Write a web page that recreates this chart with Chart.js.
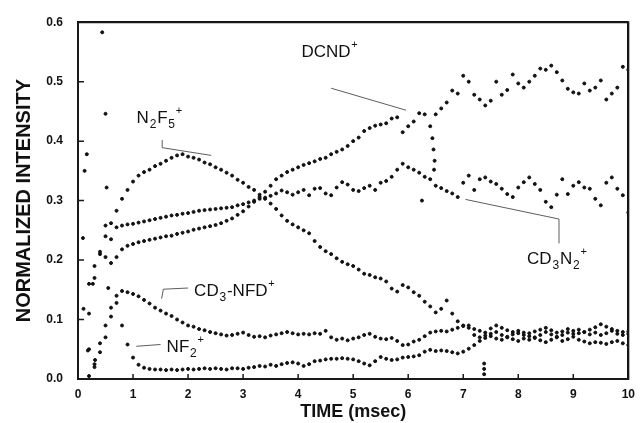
<!DOCTYPE html>
<html>
<head>
<meta charset="utf-8">
<script src="https://cdn.jsdelivr.net/npm/chart.js@4.4.0/dist/chart.umd.min.js"></script>
<style>
  html, body { margin: 0; padding: 0; background: #fff; }
  #wrap { width: 643px; height: 423px; }
</style>
</head>
<body>
<div id="wrap"><canvas id="chart"></canvas></div>
<script>
// time axis (msec), one sample every 0.1 ms
var times = [
  0.0,0.1,0.2,0.3,0.4,0.5,0.6,0.7,0.8,0.9,
  1.0,1.1,1.2,1.3,1.4,1.5,1.6,1.7,1.8,1.9,
  2.0,2.1,2.2,2.3,2.4,2.5,2.6,2.7,2.8,2.9,
  3.0,3.1,3.2,3.3,3.4,3.5,3.6,3.7,3.8,3.9,
  4.0,4.1,4.2,4.3,4.4,4.5,4.6,4.7,4.8,4.9,
  5.0,5.1,5.2,5.3,5.4,5.5,5.6,5.7,5.8,5.9,
  6.0,6.1,6.2,6.3,6.4,6.5,6.6,6.7,6.8,6.9,
  7.0,7.1,7.2,7.3,7.4,7.5,7.6,7.7,7.8,7.9,
  8.0,8.1,8.2,8.3,8.4,8.5,8.6,8.7,8.8,8.9,
  9.0,9.1,9.2,9.3,9.4,9.5,9.6,9.7,9.8,9.9,
  10.0
];

var nf2 = [
  null,null,0.005,0.020,0.045,0.070,0.105,0.128,0.090,0.058,
  0.036,0.024,0.019,0.017,0.016,0.016,0.015,0.016,0.015,0.016,
  0.017,0.016,0.017,0.018,0.017,0.018,0.017,0.016,0.018,0.018,
  0.017,0.019,0.020,0.022,0.021,0.024,0.022,0.025,0.027,0.028,
  0.026,0.022,0.025,0.030,0.031,0.033,0.034,0.034,0.035,0.034,
  0.033,0.030,0.026,0.023,0.030,0.037,0.034,0.032,0.033,0.036,
  0.037,0.038,0.040,0.046,0.049,0.047,0.048,0.047,0.045,0.043,
  0.046,0.051,0.057,0.064,0.069,0.072,0.068,0.066,0.070,0.067,
  0.064,0.068,0.066,0.070,0.065,0.062,0.066,0.070,0.064,0.067,
  0.071,0.066,0.063,0.060,0.062,0.061,0.059,0.062,0.064,0.060,
  0.057
];

var cd3nfd = [
  null,0.118,0.050,0.025,0.060,0.090,0.120,0.140,0.148,0.146,
  0.143,0.139,0.133,0.127,0.120,0.115,0.110,0.106,0.100,0.095,
  0.090,0.088,0.084,0.082,0.079,0.077,0.075,0.073,0.074,0.076,
  0.078,0.074,0.071,0.072,0.070,0.073,0.075,0.077,0.079,0.077,
  0.075,0.076,0.075,0.077,0.076,0.081,0.070,0.066,0.068,0.065,
  0.068,0.070,0.074,0.076,0.071,0.068,0.067,0.069,0.064,0.057,
  0.058,0.063,0.066,0.072,0.078,0.080,0.081,0.080,0.083,0.086,
  0.089,0.090,0.084,0.081,0.078,0.085,0.090,0.086,0.082,0.079,
  0.077,0.074,0.077,0.080,0.083,0.086,0.082,0.078,0.080,0.084,
  0.081,0.077,0.079,0.083,0.087,0.092,0.088,0.084,0.081,0.079,
  0.080
];

var n2f5 = [
  null,null,0.160,0.190,0.210,0.240,0.262,0.283,0.303,0.318,
  0.332,0.342,0.348,0.352,0.358,0.362,0.367,0.372,0.376,0.378,
  0.374,0.372,0.369,0.364,0.361,0.356,0.352,0.347,0.342,0.335,
  0.330,0.323,0.318,0.310,0.303,0.295,0.286,0.275,0.266,0.260,
  0.255,0.250,0.245,0.232,0.222,0.215,0.210,0.203,0.197,0.193,
  0.190,0.184,0.177,0.175,0.171,0.169,0.164,0.152,0.147,0.158,
  0.154,0.146,0.140,0.130,0.122,0.112,0.118,0.132,0.110,0.097,
  0.090,0.086,0.074,0.070,0.073,0.076,0.079,0.074,0.071,0.075,
  0.081,0.078,0.072,0.069,0.074,0.079,0.075,0.071,0.074,0.078,
  0.076,0.083,0.079,0.075,0.078,0.074,0.077,0.081,0.076,0.074,
  0.076
];

var dcnd = [
  null,null,0.110,0.170,0.214,0.205,0.195,0.205,0.218,0.224,
  0.227,0.230,0.232,0.234,0.236,0.238,0.240,0.241,0.244,0.246,
  0.248,0.251,0.253,0.255,0.257,0.259,0.262,0.266,0.270,0.276,
  0.282,0.290,0.298,0.306,0.315,0.325,0.336,0.342,0.348,0.352,
  0.356,0.360,0.363,0.366,0.370,0.372,0.378,0.382,0.386,0.392,
  0.400,0.406,0.417,0.422,0.426,0.428,0.430,0.438,0.440,0.415,
  0.425,0.433,0.447,0.445,0.425,0.445,0.455,0.465,0.485,0.480,
  0.510,0.500,0.478,0.470,0.460,0.468,0.500,0.478,0.486,0.512,
  0.497,0.490,0.500,0.510,0.522,0.520,0.527,0.516,0.502,0.488,
  0.482,0.480,0.497,0.485,0.490,0.502,0.470,0.480,0.490,0.525,
  0.520
];

var cd3n2 = [
  null,null,null,null,null,0.258,0.235,0.255,0.258,0.260,
  0.261,0.263,0.265,0.267,0.269,0.271,0.273,0.275,0.276,0.278,
  0.279,0.281,0.283,0.284,0.285,0.286,0.287,0.288,0.289,0.292,
  0.294,0.297,0.300,0.303,0.305,0.308,0.312,0.317,0.314,0.310,
  0.314,0.318,0.309,0.320,0.321,0.312,0.309,0.322,0.331,0.327,
  0.318,0.316,0.321,0.325,0.318,0.330,0.333,0.340,0.352,0.362,
  0.356,0.352,0.347,0.340,0.336,0.325,0.321,0.316,0.312,0.306,
  0.330,0.342,0.318,0.336,0.339,0.332,0.328,0.320,0.311,0.306,
  0.322,0.331,0.339,0.328,0.318,0.298,0.289,0.310,0.336,0.311,
  0.325,0.331,0.322,0.320,0.303,0.292,0.330,0.339,0.320,0.309,
  0.280
];

// scattered single points (early noise, the jump near 6.45 ms)
var strayTimes  = [0.09, 0.16, 0.12, 0.44, 0.50, 0.52, 0.27, 0.55, 0.18, 0.31, 6.44, 6.46, 6.48, 6.47, 6.25, 7.38, 7.38, 7.38];
var strayValues = [0.237,0.378,0.350,0.583,0.446,0.322,0.160,0.153,0.048,0.032,0.405,0.386,0.367,0.352,0.300,0.008,0.017,0.026];

var xMin = 0, xMax = 10;
var yMin = 0, yMax = 0.6;
var xTicks = [0,1,2,3,4,5,6,7,8,9,10];
var yTicks = [0.0,0.1,0.2,0.3,0.4,0.5,0.6];

// curve labels: text pieces (''/sub/sup), anchor and leader line, in data units
var labels = [
  { parts: [['N',''],['2','sub'],['F',''],['5','sub'],['+','sup']], x: 1.065, y: 0.430,
    leader: [[1.53,0.402],[1.53,0.389],[2.42,0.376]] },
  { parts: [['DCND',''],['+','sup']], x: 4.06, y: 0.542,
    leader: [[4.60,0.489],[5.96,0.452]] },
  { parts: [['CD',''],['3','sub'],['-NFD',''],['+','sup']], x: 2.11, y: 0.140,
    leader: [[1.52,0.135],[1.55,0.151],[2.00,0.153]] },
  { parts: [['NF',''],['2','sub'],['+','sup']], x: 1.61, y: 0.045,
    leader: [[1.06,0.055],[1.50,0.058]] },
  { parts: [['CD',''],['3','sub'],['N',''],['2','sub'],['+','sup']], x: 8.16, y: 0.193,
    leader: [[7.04,0.302],[8.74,0.269],[8.74,0.228]] }
];

function pts(xs, vs) {
  var out = [];
  for (var i = 0; i < xs.length; i++) {
    if (vs[i] !== null) out.push({ x: xs[i], y: vs[i] });
  }
  return out;
}

function series(name, data) {
  return {
    label: name,
    data: data,
    showLine: false,
    pointRadius: 1.5,
    pointBorderWidth: 1,
    pointBorderColor: '#111',
    pointBackgroundColor: '#111',
    pointHoverRadius: 1.5
  };
}

var font = '"Liberation Sans", Arial, sans-serif';

// grid lines only at the two ends of each axis: they make the frame
function edgeGrid(lo, hi) {
  return {
    display: true,
    drawTicks: false,
    color: function (c) {
      var v = c.tick ? c.tick.value : null;
      return (v === lo || v === hi) ? '#000' : 'rgba(0,0,0,0)';
    },
    lineWidth: 2
  };
}

var decor = {
  id: 'decor',
  afterDraw: function (chart) {
    var ctx = chart.ctx;
    var xs = chart.scales.x, ys = chart.scales.y;
    var l = xs.getPixelForValue(xMin), r = xs.getPixelForValue(xMax);
    var b = ys.getPixelForValue(yMin), t = ys.getPixelForValue(yMax);
    ctx.save();

    // frame, drawn like the leader lines
    ctx.lineWidth = 2;
    ctx.strokeStyle = '#1a1a1a';
    ctx.beginPath();
    ctx.moveTo(l, t);
    ctx.lineTo(r, t);
    ctx.lineTo(r, b);
    ctx.lineTo(l, b);
    ctx.lineTo(l, t);
    ctx.stroke();

    // inward ticks
    ctx.lineWidth = 1.5;
    ctx.beginPath();
    yTicks.forEach(function (v) {
      var py = ys.getPixelForValue(v);
      ctx.moveTo(l, py); ctx.lineTo(l + 6, py);
    });
    xTicks.forEach(function (v) {
      var px = xs.getPixelForValue(v);
      ctx.moveTo(px, b); ctx.lineTo(px, b - 5);
    });
    ctx.stroke();

    // leader lines
    ctx.lineWidth = 0.8;
    ctx.strokeStyle = '#333';
    labels.forEach(function (lb) {
      ctx.beginPath();
      lb.leader.forEach(function (p, i) {
        var px = xs.getPixelForValue(p[0]), py = ys.getPixelForValue(p[1]);
        if (i === 0) ctx.moveTo(px, py); else ctx.lineTo(px, py);
      });
      ctx.stroke();
    });

    // label text with sub/superscripts
    ctx.fillStyle = '#111';
    ctx.textBaseline = 'alphabetic';
    ctx.textAlign = 'left';
    labels.forEach(function (lb) {
      var px = xs.getPixelForValue(lb.x), py = ys.getPixelForValue(lb.y);
      lb.parts.forEach(function (p) {
        var dy = 0, size = 17;
        if (p[1] === 'sub') { size = 12; dy = 5; }
        if (p[1] === 'sup') { size = 11; dy = -9; }
        ctx.font = size + 'px ' + font;
        ctx.fillText(p[0], px, py + dy);
        px += ctx.measureText(p[0]).width + 0.8;
      });
    });
    ctx.restore();
  }
};

new Chart(document.getElementById('chart'), {
  type: 'scatter',
  data: {
    datasets: [
      series('NF2+', pts(times, nf2)),
      series('CD3-NFD+', pts(times, cd3nfd)),
      series('N2F5+', pts(times, n2f5)),
      series('DCND+', pts(times, dcnd)),
      series('CD3N2+', pts(times, cd3n2)),
      series('stray', pts(strayTimes, strayValues))
    ]
  },
  options: {
    responsive: true,
    maintainAspectRatio: false,
    animation: false,
    layout: { padding: { top: 18, right: 11, left: 0, bottom: 0 } },
    plugins: { legend: { display: false } },
    scales: {
      x: {
        type: 'linear', min: xMin, max: xMax,
        grid: edgeGrid(xMin, xMax),
        border: { display: true, color: '#000', width: 2 },
        ticks: {
          stepSize: 1, color: '#111', padding: 8,
          font: { family: font, size: 12, weight: 'bold' }
        },
        title: {
          display: true, text: 'TIME (msec)', color: '#111',
          padding: { top: 0, bottom: 0 },
          font: { family: font, size: 18, weight: 'bold' }
        },
        afterFit: function (s) { s.height = 44; }
      },
      y: {
        min: yMin, max: yMax,
        grid: edgeGrid(yMin, yMax),
        border: { display: true, color: '#000', width: 2 },
        ticks: {
          stepSize: 0.1, color: '#111', padding: 15,
          font: { family: font, size: 12, weight: 'bold' },
          callback: function (v) { return v.toFixed(1); }
        },
        title: {
          display: true, text: 'NORMALIZED INTENSITY', color: '#111',
          padding: { top: 12, bottom: 0 },
          font: { family: font, size: 20, weight: 'bold' }
        },
        afterFit: function (s) { s.width = 78; }
      }
    }
  },
  plugins: [decor]
});
</script>
</body>
</html>
